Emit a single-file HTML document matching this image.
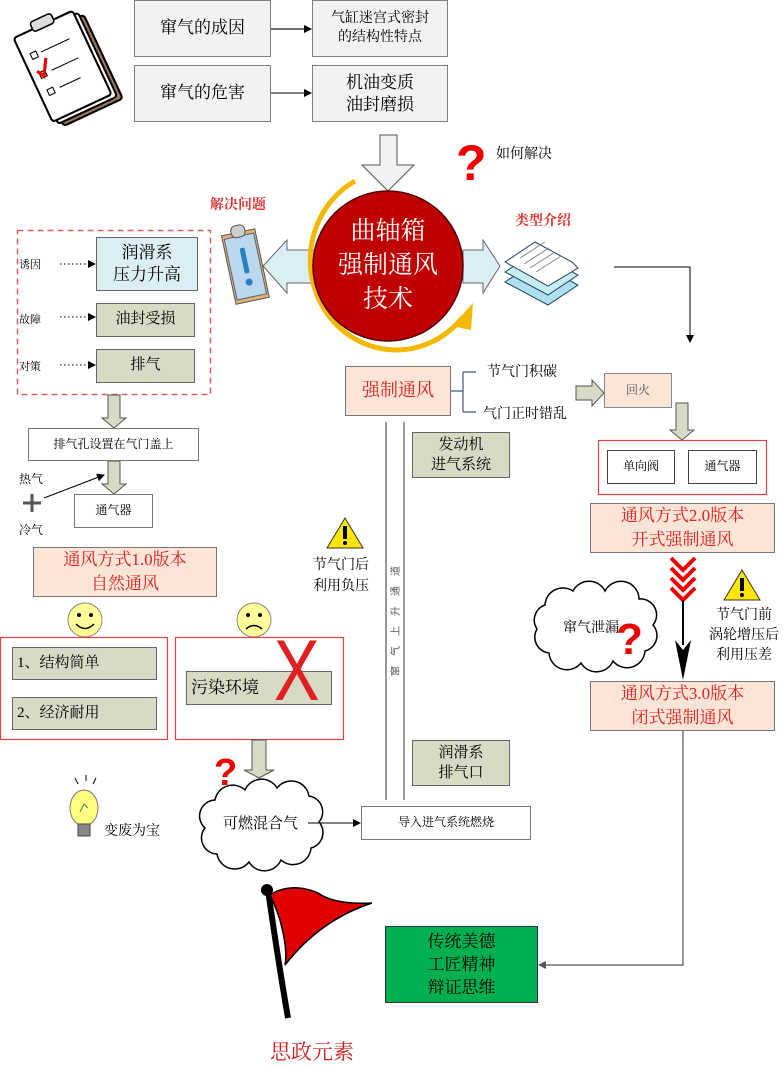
<!DOCTYPE html>
<html><head><meta charset="utf-8">
<style>
body{margin:0;background:#fff;}
#c{position:relative;width:783px;height:1068px;overflow:hidden;font-family:"Liberation Serif","Noto Serif CJK SC","Noto Sans CJK SC",serif;}
.b{position:absolute;box-sizing:border-box;display:flex;align-items:center;justify-content:center;text-align:center;line-height:1.3;}
.t{position:absolute;white-space:nowrap;}
svg{position:absolute;left:0;top:0;}
</style></head><body><div id="c">
<svg width="783" height="1068" viewBox="0 0 783 1068">
<defs>
<marker id="ah" markerWidth="8" markerHeight="8" refX="7" refY="4" orient="auto" markerUnits="userSpaceOnUse"><path d="M0,0L8,4L0,8z" fill="#000"/></marker>
<marker id="ahg" markerWidth="8" markerHeight="8" refX="7" refY="4" orient="auto" markerUnits="userSpaceOnUse"><path d="M0,0L8,4L0,8z" fill="#555"/></marker>
</defs>
<!-- clipboard icon top-left -->
<g transform="translate(8,4) scale(1.05) rotate(-25 60 60)">
<rect x="30" y="20" width="62" height="88" rx="3" fill="#a0785a" stroke="#000" stroke-width="2"/>
<rect x="26" y="16" width="62" height="88" rx="3" fill="#fff" stroke="#000" stroke-width="2"/>
<rect x="22" y="12" width="62" height="88" rx="3" fill="#fff" stroke="#000" stroke-width="2"/>
<rect x="42" y="5" width="22" height="10" rx="3" fill="#ddd" stroke="#000" stroke-width="1.5"/>
<rect x="30" y="32" width="6" height="6" fill="none" stroke="#000"/>
<rect x="30" y="52" width="6" height="6" fill="none" stroke="#000"/>
<rect x="30" y="70" width="6" height="6" fill="none" stroke="#000"/>
<path d="M29,50 L33,57 L42,42" stroke="#e00" stroke-width="3" fill="none"/>
<path d="M40,35 h30 M42,55 h28 M42,73 h22" stroke="#000" stroke-width="1"/>
</g>
<!-- top arrows -->
<line x1="271" y1="29" x2="311" y2="29" stroke="#444" stroke-width="1.5" marker-end="url(#ah)"/>
<line x1="271" y1="93" x2="311" y2="93" stroke="#000" stroke-width="1" marker-end="url(#ah)"/>
<!-- big down arrow -->
<path d="M380,135 H397 V165 H414 L388,191 L362,165 H380 Z" fill="#f2f2f2" stroke="#555" stroke-width="1"/>
<!-- red ? -->
<text x="456" y="180" font-size="50" fill="#e00" font-family="Liberation Sans,sans-serif" font-weight="bold">?</text>
<!-- left/right hollow arrows -->
<path d="M315,250 H287 V240 L263,266 L287,293 V283 H315 Z" fill="#dbeef4" stroke="#666"/>
<path d="M463,250 H483 V240 L500,266 L483,293 V283 H463 Z" fill="#dbeef4" stroke="#666"/>
<!-- yellow arc -->
<path d="M355,181 A86,90 0 1,0 462,318" fill="none" stroke="#f5b800" stroke-width="5"/>
<path d="M452,326 L473,303 L471,330 Z" fill="#f5b800"/>
<!-- circle -->
<circle cx="388" cy="266" r="75" fill="#c00000" stroke="#500" stroke-width="1.5"/>
<!-- clipboard blue -->
<g transform="rotate(-12 243 265)">
<rect x="228" y="232" width="34" height="70" fill="#e2b070" stroke="#555"/>
<rect x="230" y="236" width="30" height="62" fill="#bcd8ee" stroke="#567"/>
<rect x="238" y="225" width="14" height="12" rx="5" fill="#ccc" stroke="#555"/>
<rect x="243" y="248" width="5" height="26" rx="2" fill="#2a7fc0"/>
<circle cx="245.5" cy="283" r="3.5" fill="#2a7fc0"/>
</g>
<!-- papers -->
<g stroke="#246" stroke-width="1">
<path d="M505,282 L535,262 L578,285 L548,305 Z" fill="#aee0ef"/>
<path d="M505,272 L535,252 L578,275 L548,295 Z" fill="#c8ecf5"/>
<path d="M505,262 L535,242 L572,262 L578,268 L548,286 Z" fill="#fff"/>
<path d="M520,258 l25,-16 M524,264 l25,-16 M530,268 l25,-16 M536,272 l25,-16" stroke="#888"/>
</g>
<!-- right connector -->
<polyline points="614,267 690,267 690,342" fill="none" stroke="#000" stroke-width="1" marker-end="url(#ah)"/>
<!-- dashed box -->
<rect x="17.5" y="230.5" width="193" height="164" fill="none" stroke="#e06060" stroke-width="1.5" stroke-dasharray="6,4"/>
<line x1="60" y1="264" x2="95" y2="264" stroke="#000" stroke-dasharray="1.5,2.5" marker-end="url(#ah)"/>
<line x1="60" y1="317" x2="95" y2="317" stroke="#000" stroke-dasharray="1.5,2.5" marker-end="url(#ah)"/>
<line x1="60" y1="365" x2="95" y2="365" stroke="#000" stroke-dasharray="1.5,2.5" marker-end="url(#ah)"/>
<!-- down arrows left -->
<path d="M108,395 H120 V418 H126 L114,428 L102,418 H108 Z" fill="#d7dac4" stroke="#555"/>
<path d="M108,461 H120 V484 H126 L114,494 L102,484 H108 Z" fill="#d7dac4" stroke="#555"/>
<!-- plus and arrow -->
<path d="M32,494 V512 M23,503 H41" stroke="#555" stroke-width="3"/>
<line x1="44" y1="498" x2="104" y2="475" stroke="#000" stroke-width="1" marker-end="url(#ah)"/>
<!-- smileys -->
<circle cx="85" cy="620" r="17" fill="#ffff99" stroke="#888"/>
<circle cx="79" cy="615" r="2"/><circle cx="91" cy="615" r="2"/>
<path d="M76,624 Q85,633 94,624" fill="none" stroke="#000" stroke-width="1.5"/>
<circle cx="254" cy="620" r="17" fill="#ffff99" stroke="#888"/>
<circle cx="248" cy="615" r="2"/><circle cx="260" cy="615" r="2"/>
<path d="M246,629 Q254,622 262,629" fill="none" stroke="#000" stroke-width="1.5"/>
<!-- red boxes -->
<rect x="0.5" y="637.5" width="167" height="102" fill="none" stroke="#e04040" stroke-width="1.2"/>
<rect x="175.5" y="637.5" width="168" height="102" fill="none" stroke="#e04040" stroke-width="1.2"/>
<!-- arrow under -->
<path d="M252,740 H266 V770 H274 L259,778 L244,770 H252 Z" fill="#d7dac4" stroke="#555"/>
<text x="214" y="785" font-size="38" fill="#e00" font-family="Liberation Sans,sans-serif" font-weight="bold">?</text>
<!-- cloud -->
<g fill="#fff" stroke="#000" stroke-width="1.5">
<path d="M215,800 a18,18 0 0,1 30,-10 a18,18 0 0,1 32,-2 a18,18 0 0,1 32,8 a16,16 0 0,1 10,26 a16,16 0 0,1 -8,26 a18,18 0 0,1 -30,12 a18,18 0 0,1 -32,2 a18,18 0 0,1 -32,-8 a16,16 0 0,1 -12,-26 a16,16 0 0,1 10,-28 z"/>
<path d="M545,605 a18,18 0 0,1 28,-14 a18,18 0 0,1 32,0 a18,18 0 0,1 34,8 a16,16 0 0,1 14,26 a16,16 0 0,1 -8,26 a18,18 0 0,1 -32,10 a18,18 0 0,1 -32,2 a18,18 0 0,1 -32,-10 a16,16 0 0,1 -12,-24 a16,16 0 0,1 8,-24 z"/>
</g>
<text x="616" y="654" font-size="44" fill="#e00" font-family="Liberation Sans,sans-serif" font-weight="bold">?</text>
<line x1="308" y1="823" x2="360" y2="823" stroke="#000" stroke-width="1" marker-end="url(#ah)"/>
<!-- bulb -->
<ellipse cx="84" cy="808" rx="14" ry="18" fill="#ffff80" stroke="#777"/>
<rect x="78" y="824" width="12" height="12" fill="#888" stroke="#444"/>
<path d="M75,778 l3,6 M86,775 v6 M96,778 l-3,6" stroke="#000"/>
<path d="M80,812 l4,-8 l4,4" stroke="#575" fill="none"/>
<!-- flag -->
<path d="M268,890 Q278,960 288,1018" stroke="#000" stroke-width="6" fill="none"/>
<path d="M270,895 Q275,905 280,920 Q288,950 285,965 Q320,920 372,903 Q335,905 318,893 Q295,883 275,892 Z" fill="#e00000" stroke="#000" stroke-width="1.5"/>
<circle cx="267" cy="890" r="6" fill="#000"/>
<!-- bracket -->
<path d="M451,391 H463 M463,372 V412 M463,372 H476 M463,412 H476" stroke="#3a5a7a" stroke-width="1.2" fill="none"/>
<!-- right hollow arrow -->
<path d="M576,386 H592 V380 L604,393 L592,406 V400 H576 Z" fill="#d7dac4" stroke="#555"/>
<path d="M676,403 H688 V430 H694 L682,440 L670,430 H676 Z" fill="#d7dac4" stroke="#555"/>
<rect x="598.5" y="440.5" width="168" height="54" fill="none" stroke="#e04040" stroke-width="1.2"/>
<!-- chevrons -->
<g stroke="#e00" stroke-width="4" fill="none">
<path d="M671,558 L683,570 L695,558"/><path d="M671,568 L683,580 L695,568"/><path d="M671,578 L683,590 L695,578"/><path d="M671,588 L683,600 L695,588"/>
</g>
<line x1="683" y1="600" x2="683" y2="645" stroke="#000" stroke-width="2"/>
<path d="M675,640 L683,680 L691,640 L683,650 Z" fill="#000"/>
<!-- warnings -->
<path d="M742,570 L760,600 L724,600 Z" fill="#ffe600" stroke="#333"/>
<rect x="740" y="578" width="4" height="13" fill="#000"/><circle cx="742" cy="595" r="2"/>
<path d="M345,518 L363,548 L327,548 Z" fill="#ffe600" stroke="#333"/>
<rect x="343" y="526" width="4" height="13" fill="#000"/><circle cx="345" cy="543" r="2"/>
<!-- vertical lines -->
<line x1="386" y1="422" x2="386" y2="800" stroke="#333" stroke-width="1"/>
<line x1="404" y1="422" x2="404" y2="800" stroke="#333" stroke-width="1"/>
<text transform="translate(399,676) rotate(-90)" font-size="10" fill="#555" letter-spacing="10" font-family="Noto Sans CJK SC,sans-serif">窜气上升通道</text>
<!-- right bottom connector -->
<polyline points="683,731 683,965 539,965" fill="none" stroke="#555" stroke-width="1.2" marker-end="url(#ahg)"/>
</svg>

<div class="b" style="left:134px;top:0;width:137px;height:57px;background:#f2f2f2;border:1.5px solid #7f7f7f;font-size:17px;">窜气的成因</div>
<div class="b" style="left:312px;top:0;width:136px;height:57px;background:#f2f2f2;border:1.5px solid #7f7f7f;font-size:14px;">气缸迷宫式密封<br>的结构性特点</div>
<div class="b" style="left:134px;top:65px;width:137px;height:57px;background:#f2f2f2;border:1.5px solid #7f7f7f;font-size:17px;">窜气的危害</div>
<div class="b" style="left:312px;top:65px;width:136px;height:57px;background:#f2f2f2;border:1.5px solid #7f7f7f;font-size:17px;line-height:22px;">机油变质<br>油封磨损</div>
<div class="t" style="left:496px;top:143px;font-size:14px;">如何解决</div>
<div class="t" style="left:210px;top:194px;font-size:14px;color:#e03030;font-weight:bold;">解决问题</div>
<div class="t" style="left:515px;top:210px;font-size:14px;color:#e03030;font-weight:bold;">类型介绍</div>
<div class="b" style="left:313px;top:214px;width:150px;height:104px;color:#fff;font-size:25px;line-height:34px;">曲轴箱<br>强制通风<br>技术</div>

<div class="t" style="left:19px;top:256px;font-size:11px;">诱因</div>
<div class="t" style="left:19px;top:311px;font-size:11px;">故障</div>
<div class="t" style="left:19px;top:358px;font-size:11px;">对策</div>
<div class="b" style="left:96px;top:237px;width:102px;height:54px;background:#dbeef4;border:1.5px solid #666;font-size:17px;">润滑系<br>压力升高</div>
<div class="b" style="left:96px;top:303px;width:99px;height:34px;background:#d7dac4;border:1.5px solid #666;font-size:15px;">油封受损</div>
<div class="b" style="left:96px;top:349px;width:99px;height:34px;background:#d7dac4;border:1.5px solid #666;font-size:15px;">排气</div>
<div class="b" style="left:28px;top:428px;width:171px;height:33px;background:#fff;border:1.5px solid #777;font-size:12px;">排气孔设置在气门盖上</div>
<div class="t" style="left:19px;top:470px;font-size:12px;">热气</div>
<div class="t" style="left:19px;top:521px;font-size:12px;">冷气</div>
<div class="b" style="left:74px;top:494px;width:79px;height:34px;background:#fff;border:1.5px solid #777;font-size:12px;">通气器</div>
<div class="b" style="left:33px;top:547px;width:184px;height:50px;background:#fce4d6;border:1.5px solid #777;font-size:17px;color:#e02020;line-height:24px;">通风方式1.0版本<br>自然通风</div>
<div class="b" style="left:12px;top:647px;width:145px;height:33px;background:#d7dac4;border:1.5px solid #666;font-size:15px;justify-content:flex-start;padding-left:4px;">1、结构简单</div>
<div class="b" style="left:12px;top:697px;width:145px;height:33px;background:#d7dac4;border:1.5px solid #666;font-size:15px;justify-content:flex-start;padding-left:4px;">2、经济耐用</div>
<div class="b" style="left:186px;top:671px;width:146px;height:34px;background:#d7dac4;border:1.5px solid #666;font-size:17px;justify-content:flex-start;padding-left:4px;">污染环境</div>
<div class="t" style="left:268px;top:628px;font-size:86px;color:#e02020;font-family:'Liberation Sans',sans-serif;line-height:1;transform:scaleX(0.8);">X</div>
<div class="t" style="left:104px;top:820px;font-size:14px;">变废为宝</div>
<div class="t" style="left:223px;top:812px;font-size:15px;">可燃混合气</div>
<div class="b" style="left:361px;top:806px;width:170px;height:34px;background:#fff;border:1.5px solid #777;font-size:12px;">导入进气系统燃烧</div>
<div class="b" style="left:385px;top:926px;width:153px;height:77px;background:#00b050;border:1px solid #333;font-size:17px;line-height:23px;">传统美德<br>工匠精神<br>辩证思维</div>
<div class="t" style="left:270px;top:1036px;font-size:21px;color:#d02020;">思政元素</div>

<div class="b" style="left:345px;top:366px;width:106px;height:50px;background:#fce4d6;border:1.5px solid #777;font-size:18px;color:#e02020;">强制通风</div>
<div class="t" style="left:487px;top:361px;font-size:14px;">节气门积碳</div>
<div class="t" style="left:483px;top:403px;font-size:14px;">气门正时错乱</div>
<div class="b" style="left:604px;top:373px;width:68px;height:35px;background:#fce4d6;border:1.5px solid #888;font-size:12px;color:#555;">回火</div>
<div class="b" style="left:607px;top:450px;width:68px;height:34px;background:#fff;border:1.5px solid #444;font-size:12px;">单向阀</div>
<div class="b" style="left:688px;top:450px;width:69px;height:34px;background:#fff;border:1.5px solid #444;font-size:12px;">通气器</div>
<div class="b" style="left:590px;top:503px;width:185px;height:50px;background:#fce4d6;border:1.5px solid #777;font-size:17px;color:#e02020;line-height:24px;">通风方式2.0版本<br>开式强制通风</div>
<div class="t" style="left:563px;top:617px;font-size:14px;">窜气泄漏</div>
<div class="t" style="left:709px;top:606px;font-size:14px;line-height:20px;text-align:center;">节气门前<br>涡轮增压后<br>利用压差</div>
<div class="b" style="left:590px;top:681px;width:185px;height:50px;background:#fce4d6;border:1.5px solid #777;font-size:17px;color:#e02020;line-height:24px;">通风方式3.0版本<br>闭式强制通风</div>
<div class="t" style="left:313px;top:555px;font-size:14px;line-height:21px;">节气门后<br>利用负压</div>
<div class="b" style="left:412px;top:432px;width:98px;height:46px;background:#d7dac4;border:1.5px solid #666;font-size:15px;line-height:20px;">发动机<br>进气系统</div>
<div class="b" style="left:412px;top:740px;width:98px;height:46px;background:#d7dac4;border:1.5px solid #666;font-size:15px;line-height:20px;">润滑系<br>排气口</div>
</div></body></html>
